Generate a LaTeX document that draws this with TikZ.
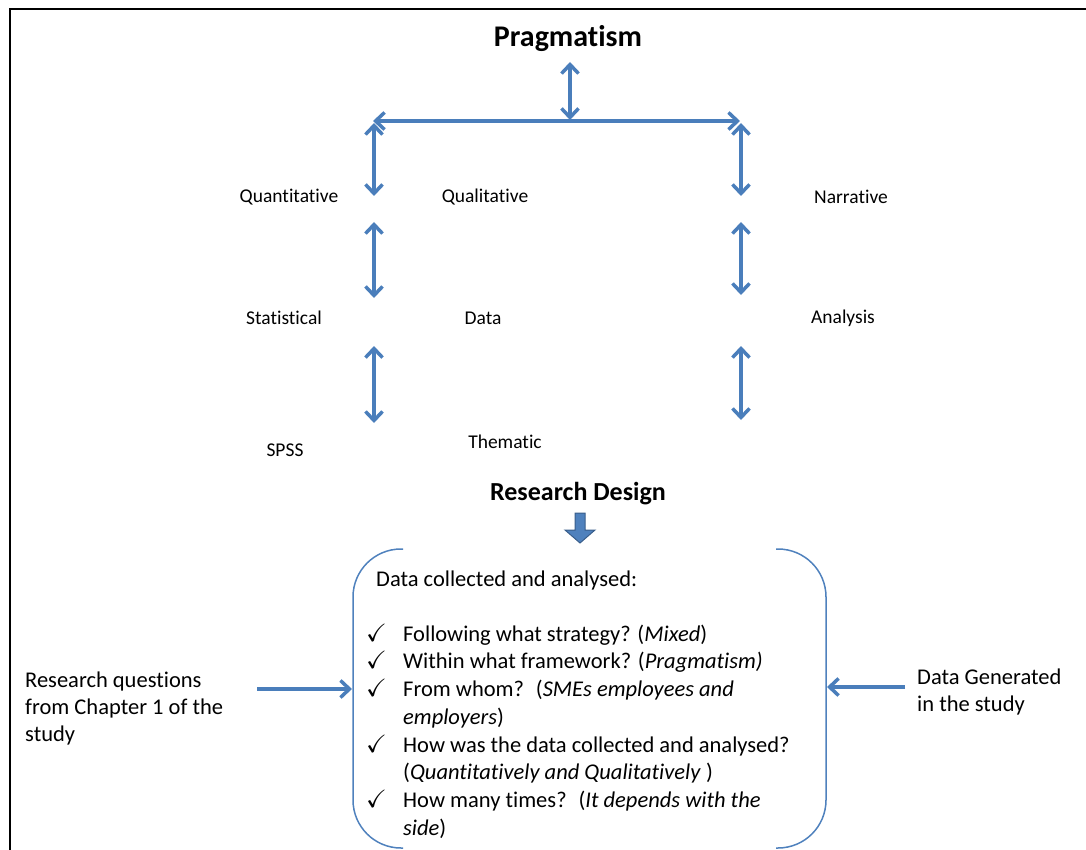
\documentclass[tikz,border=0pt]{standalone}
\usepackage{amssymb}
\usepackage{fontspec}
\setmainfont{Carlito}[Ligatures=NoCommon]
\usetikzlibrary{arrows.meta}
\definecolor{blufreccia}{HTML}{4A7EBB}
\definecolor{blucornice}{HTML}{4F81BD}
\definecolor{blubordo}{HTML}{385D8A}

\tikzset{
  freccia/.style={draw=blufreccia, line width=3.5pt, {Straight Barb[length=9pt,width=17pt]}-{Straight Barb[length=9pt,width=17pt]}},
  frecciasingola/.style={draw=blufreccia, line width=3.5pt, -{Straight Barb[length=9pt,width=17pt]}},
  etichetta/.style={font=\fontsize{19.5}{24}\selectfont, inner sep=0pt},
  titolo/.style={font=\bfseries\fontsize{30}{34}\selectfont, inner sep=0pt},
  testo/.style={font=\fontsize{22.5}{27}\selectfont, anchor=base west, inner sep=0pt},
}

\begin{document}
\begin{tikzpicture}[x=1pt, y=-1pt]
\useasboundingbox (0,0) rectangle (1086,850);

% Cornice esterna
\draw[line width=2.5pt] (10,850) -- (10,9) -- (1086,9);

% Titolo e freccia centrale
\node[titolo] (prag) at (568,39) {Pragmatism};
\coordinate (pragsu) at (570,62);
\coordinate (praggiu) at (570,120);
\draw[freccia] (pragsu) -- (praggiu);

% Freccia orizzontale
\coordinate (sx) at (373,121);
\coordinate (dx) at (740,121);
\draw[freccia] (sx) -- (dx);

% Frecce colonna sinistra
\foreach \a/\b [count=\k] in {123/196,222/298,346/423} {
    \coordinate (sa\k) at (374,\a);
    \coordinate (sb\k) at (374,\b);
    \draw[freccia] (sa\k) -- (sb\k); % Freccia doppia
}

% Frecce colonna destra
\foreach \a/\b [count=\k] in {123/196,222/295,346/420} {
    \coordinate (da\k) at (741,\a);
    \coordinate (db\k) at (741,\b);
    \draw[freccia] (da\k) -- (db\k); % Freccia doppia
}

% Etichette
\node[etichetta] (quant) at (289,197) {Quantitative};
\node[etichetta] (qual) at (485,197) {Qualitative};
\node[etichetta] (narr) at (851,197) {Narrative};
\node[etichetta] (stat) at (284,318) {Statistical};
\node[etichetta] (dati) at (483,318) {Data};
\node[etichetta] (anal) at (843,318) {Analysis};
\node[etichetta] (spss) at (285,450) {SPSS};
\node[etichetta] (tema) at (505,442) {Thematic};

% Research Design e freccia piena
\node[titolo, font=\bfseries\fontsize{26}{30}\selectfont] (design) at (578,494) {Research Design};
\draw[fill=blucornice, draw=blubordo, line width=1pt]
    (575,513) -- (585,513) -- (585,530) -- (595,530) -- (580,543) -- (565,530) -- (575,530) -- cycle;

% Parentesi del riquadro
\draw[blucornice, line width=1.5pt, rounded corners=48pt] (403,549) -- (353,549) -- (353,848) -- (403,848);
\draw[blucornice, line width=1.5pt, rounded corners=48pt] (776,549) -- (826,549) -- (826,848) -- (776,848);

% Testo nel riquadro
\node[testo] (intro) at (376,586) {Data collected and analysed:};
\node[testo] (r1) at (403,641) {Following what strategy? (\textit{Mixed})};
\node[testo] (r2) at (403,668) {Within what framework? (\textit{Pragmatism)}};
\node[testo] (r3) at (403,696) {From whom?~ (\textit{SMEs employees and}};
\node[testo] (r4) at (403,724) {\textit{employers})};
\node[testo] (r5) at (403,752) {How was the data collected and analysed?};
\node[testo] (r6) at (403,779) {(\textit{Quantitatively and Qualitatively} )};
\node[testo] (r7) at (403,807) {How many times?~ (\textit{It depends with the}};
\node[testo] (r8) at (403,835) {\textit{side})};
\foreach \y in {641,668,696,752,807} {
    \node[testo, font=\fontsize{25}{28}\selectfont] (spunta\y) at (366,\y) {$\checkmark$}; % Spunta
}

% Testi laterali e frecce
\node[testo] (domande) at (25,687) {Research questions};
\node[testo] (domande2) at (25,714) {from Chapter 1 of the};
\node[testo] (domande3) at (25,741) {study};
\coordinate (insx) at (257,689);
\coordinate (finsx) at (352,689);
\draw[frecciasingola] (insx) -- (finsx);

\node[testo] (generati) at (917,684) {Data Generated};
\node[testo] (generati2) at (917,711) {in the study};
\coordinate (indx) at (905,687);
\coordinate (findx) at (827,687);
\draw[frecciasingola] (indx) -- (findx);

\end{tikzpicture}
\end{document}
